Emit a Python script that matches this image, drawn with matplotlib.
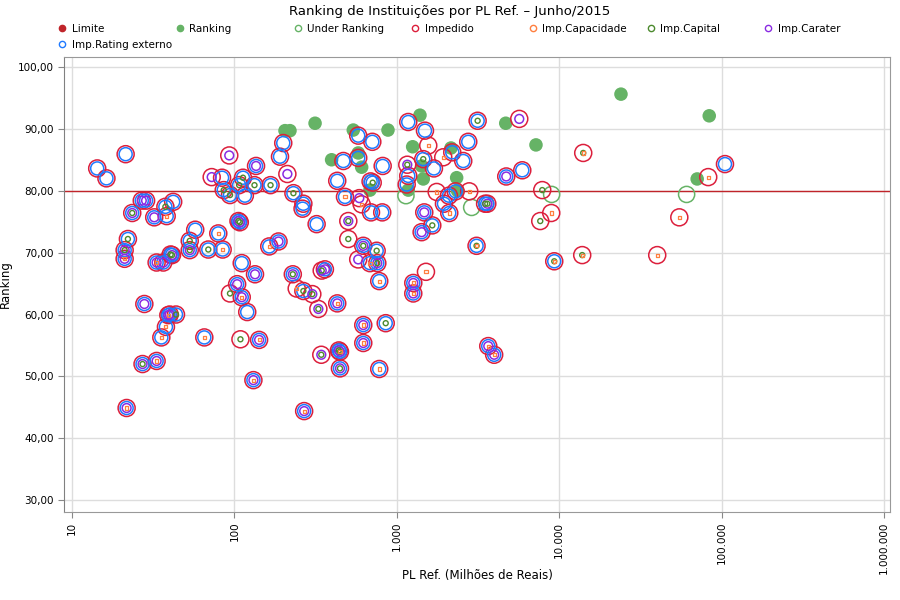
import matplotlib
matplotlib.use("Agg")
import matplotlib.pyplot as plt
from matplotlib.lines import Line2D
from matplotlib.ticker import FixedLocator, FuncFormatter, NullLocator

# PL de referencia (milhoes de reais), ranking e motivos de impedimento
# B = Rating externo, P = Carater, C = Capital, K = Capacidade
imp_pl = [14.3, 16.3, 21.4, 93, 136, 200, 191, 212, 72.5, 84, 113, 107, 86, 94, 116,
          133, 167, 231, 263, 26.9, 28.6, 42, 37.6, 23.5, 32.1, 38.3, 108, 106, 57.4,
          79.6, 22.1, 53.1, 53.1, 21.1, 21.1, 69.1, 84.7, 41.3, 40.5, 33.2, 36.5, 164,
          187, 111, 134, 229, 27.9, 104, 94, 111, 120, 39.2, 40.0, 43.7, 37.9, 35.5,
          65.3, 109, 142, 27.2, 33.2, 131, 21.7, 269, 242, 266, 302, 329, 430, 622,
          855, 622, 343, 447, 440, 447, 780, 3660, 3980, 780, 1264, 1264, 1513, 361,
          345, 684, 759, 579, 622, 752, 503, 503, 321, 3100, 1655, 1423, 1477, 2105,
          1953, 3610, 3500, 1762, 2096, 2305, 2795, 480, 588, 608, 694, 814, 266, 430,
          711, 690, 1151, 1177, 1161, 1694, 1456, 1933, 2197, 2567, 2756, 1563, 469,
          579, 819, 579, 707, 1177, 1492, 3148, 5680, 4723, 5929, 14070, 7870, 8940,
          7650, 13870, 9330, 40180, 54950, 82800, 105000]
imp_rank = [83.6, 82.0, 85.9, 85.7, 84.0, 87.7, 85.5, 82.7, 82.2, 82.1, 82.1, 80.9, 80.1,
            79.3, 79.2, 80.9, 80.9, 79.6, 77.1, 78.4, 78.4, 78.2, 77.4, 76.4, 75.7, 75.9,
            74.9, 75.1, 73.7, 73.1, 72.2, 71.9, 70.4, 70.4, 69.0, 70.5, 70.5, 69.6, 69.7,
            68.4, 68.4, 71.0, 71.8, 68.3, 66.5, 66.5, 61.7, 64.9, 63.4, 62.8, 60.4, 59.9,
            60.0, 60.0, 58.0, 56.3, 56.3, 56.0, 55.9, 52.0, 52.5, 49.4, 44.9, 44.4, 64.2,
            63.8, 63.3, 60.9, 61.8, 58.3, 58.6, 55.4, 53.5, 54.0, 54.2, 51.3, 51.2, 54.9,
            53.5, 65.4, 65.1, 63.4, 66.9, 67.3, 67.1, 68.3, 68.3, 68.9, 71.1, 70.3, 72.2,
            75.1, 74.6, 71.1, 74.4, 73.3, 76.5, 76.4, 77.9, 77.9, 77.9, 79.8, 79.2, 79.9,
            79.9, 79.0, 78.8, 77.8, 76.5, 76.5, 77.9, 81.6, 81.3, 81.5, 81.0, 82.4, 84.2,
            83.6, 85.1, 85.4, 86.2, 84.8, 87.9, 87.3, 84.8, 85.3, 84.0, 88.9, 87.9, 91.1,
            89.7, 91.3, 91.6, 82.3, 83.3, 86.1, 80.1, 76.4, 75.1, 69.6, 68.6, 69.6, 75.7,
            82.2, 84.3]
imp_motivo = ["B", "B", "B", "P", "BP", "B", "B", "P", "P", "B", "BC", "BC", "BC", "BC", "B",
              "BC", "BC", "BC", "B", "BP", "BP", "B", "BC", "BPC", "BP", "BK", "BPC", "BPC", "B",
              "BK", "BC", "BC", "BPC", "BPC", "BPK", "BC", "BK", "BPC", "BC", "BPK", "BP", "BK",
              "BP", "B", "BP", "BPC", "BP", "BP", "C", "BPK", "B", "BPK", "BP", "BC", "BK", "BK",
              "BK", "C", "BPK", "BPC", "BPK", "BPK", "BPK", "BPK", "K", "BC", "PC", "PC", "BPK", "BPK",
              "BC", "BPK", "PC", "BPKC", "BPC", "BPC", "BK", "BPK", "BPK", "BK", "BPK", "BPK", "K", "BP",
              "PC", "BK", "BPC", "P", "BPC", "BC", "C", "PC", "B", "BCK", "BC", "BP", "BP", "BK",
              "B", "BPC", "BC", "K", "B", "B", "K", "BK", "P", "K", "B", "B", "B", "B",
              "BC", "B", "B", "B", "PC", "B", "BC", "K", "B", "B", "B", "K", "B",
              "B", "B", "B", "B", "B", "B", "BC", "P", "BP", "B", "CK", "C", "K",
              "C", "CK", "BCK", "K", "K", "K", "B"]

# instituicoes sem impedimento
livre_pl = [205, 220, 314, 397, 540, 579, 608, 684, 883, 1390, 1253, 2157, 2338, 1456,
            1177, 2365, 1423, 4690, 7200, 24030, 84000, 70800, 2893, 1139, 8990, 60950]
livre_rank = [89.7, 89.7, 90.9, 85.0, 89.8, 86.1, 83.8, 80.1, 89.8, 92.2, 87.1, 86.9, 82.1,
              81.9, 80.1, 80.0, 84.0, 90.9, 87.4, 95.6, 92.1, 81.9, 77.3, 79.2, 79.4, 79.4]

limite = 80.0

plt.rcParams['font.family'] = ['DejaVu Sans']

fig = plt.figure(figsize=(9, 6), dpi=100)
ax = fig.add_axes([64 / 900, 88 / 600, 826 / 900, 455 / 600])

c_limite = '#c0242a'
c_rank = '#66b366'
c_imp = '#dc1f3c'
c_capac = '#ff7f3f'
c_capital = '#4c8a2e'
c_carater = '#8a2be2'
c_rating = '#1f7aff'

ax.axhline(limite, color=c_limite, lw=1.0, zorder=1)

rk_x = [x for x, y in zip(livre_pl, livre_rank) if y >= limite]
rk_y = [y for y in livre_rank if y >= limite]
ur_x = [x for x, y in zip(livre_pl, livre_rank) if y < limite]
ur_y = [y for y in livre_rank if y < limite]
ax.scatter(rk_x, rk_y, s=95, color=c_rank, edgecolors='none', zorder=2)
ax.scatter(ur_x, ur_y, s=135, facecolors='none', edgecolors=c_rank, linewidths=1.1, zorder=2)

ax.scatter(imp_pl, imp_rank, s=150, facecolors='none', edgecolors=c_imp, linewidths=1.1, zorder=3)


def sub(code):
    xs = [x for x, m in zip(imp_pl, imp_motivo) if code in m]
    ys = [y for y, m in zip(imp_rank, imp_motivo) if code in m]
    return xs, ys


x, y = sub('B')
ax.scatter(x, y, s=88, facecolors='none', edgecolors=c_rating, linewidths=1.1, zorder=4)
x, y = sub('P')
ax.scatter(x, y, s=40, facecolors='none', edgecolors=c_carater, linewidths=1.1, zorder=5)
x, y = sub('C')
ax.scatter(x, y, s=13, facecolors='none', edgecolors=c_capital, linewidths=1.0, zorder=6)
x, y = sub('K')
ax.scatter(x, y, s=5, marker='s', facecolors='none', edgecolors=c_capac, linewidths=0.9, zorder=7)

ax.set_xscale('log')
ax.set_xlim(8.93, 1.09e6)
ax.set_ylim(28.1, 101.6)
ax.xaxis.set_major_locator(FixedLocator([10, 100, 1000, 10000, 100000, 1000000]))
ax.xaxis.set_minor_locator(NullLocator())
ax.xaxis.set_major_formatter(FuncFormatter(lambda v, p: f"{int(round(v)):,}".replace(',', '.')))
ax.yaxis.set_major_locator(FixedLocator(list(range(30, 101, 10))))
ax.yaxis.set_major_formatter(FuncFormatter(lambda v, p: f"{v:.2f}".replace('.', ',')))
ax.tick_params(axis='x', labelrotation=90, labelsize=7.5, length=4, color='#888888', pad=3)
ax.tick_params(axis='y', labelsize=7.5, length=4, color='#888888')
ax.grid(True, color='#dddddd', lw=1.0, zorder=0)
ax.set_axisbelow(True)
for s in ax.spines.values():
    s.set_color('#999999')
ax.spines['left'].set_color('#808080')

ax.set_xlabel('PL Ref. (Milhões de Reais)', fontsize=8.5, labelpad=-4)
ax.set_ylabel('Ranking', fontsize=8.5)
fig.text(0.5, 1 - 12 / 600, 'Ranking de Instituições por PL Ref. – Junho/2015',
         ha='center', va='center', fontsize=9.5)

# legenda: 7 colunas fixas
itens = [('Limite', c_limite, True), ('Ranking', c_rank, True), ('Under Ranking', c_rank, False),
         ('Impedido', c_imp, False), ('Imp.Capacidade', c_capac, False),
         ('Imp.Capital', c_capital, False), ('Imp.Carater', c_carater, False),
         ('Imp.Rating externo', c_rating, False)]
for i, (nome, cor, cheio) in enumerate(itens):
    h = Line2D([], [], marker='o', linestyle='', markersize=4.5,
               markerfacecolor=cor if cheio else 'white', markeredgecolor=cor, markeredgewidth=1)
    col, row = i % 7, i // 7
    fig.legend(handles=[h], labels=[nome], loc='center left',
               bbox_to_anchor=((58 + col * 117.7) / 900, 1 - (29 + row * 16) / 600),
               frameon=False, fontsize=7.5, handlelength=0.8, handletextpad=0.5, borderpad=0,
               borderaxespad=0)

fig.savefig('out.png', dpi=100)
